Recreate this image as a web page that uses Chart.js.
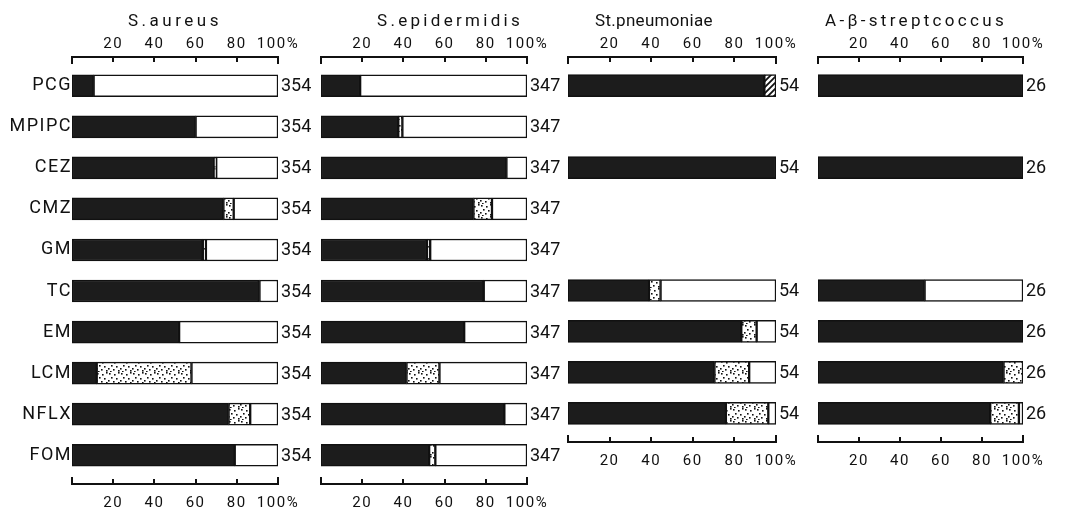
<!DOCTYPE html>
<html><head><meta charset="utf-8">
<script src="https://cdn.jsdelivr.net/npm/chart.js@4"></script>
<style>
html,body{margin:0;padding:0;background:#fff;}
#wrap{position:relative;width:1071px;height:516px;background:#fff;}
canvas{position:absolute;left:0;top:0;}
</style></head><body>
<div id="wrap">
<canvas id="c0" width="1071" height="516"></canvas>
<canvas id="c1" width="1071" height="516"></canvas>
<canvas id="c2" width="1071" height="516"></canvas>
<canvas id="c3" width="1071" height="516"></canvas>
</div>
<script>
// ---- data ----
const drugs = ['PCG','MPIPC','CEZ','CMZ','GM','TC','EM','LCM','NFLX','FOM'];
const drugsStrep = ['PCG','MPIPC','CEZ','CMZ','GM','TC','EM','LCM','NFLX'];
const organisms = ['S.aureus','S.epidermidis','St.pneumoniae','A-β-streptcoccus'];
const strainCounts = [354, 347, 54, 26];
const tickValues = [0, 20, 40, 60, 80, 100];
const tickLabels = ['', '20', '40', '60', '80', '100%'];

// % susceptible (black), intermediate (stippled), resistant (white)
const aureusS = [10.5, 60, 69, 73.5, 63.5, 91, 52, 12, 76, 79];
const aureusI = [null, null, 1, 5, 1.5, null, null, 46, 10.5, null];
const aureusR = [89.5, 40, 30, 21.5, 35, 9, 48, 42, 13.5, 21];

const epiS = [19, 37.5, 90, 74, 51.5, 79, 69.5, 41.5, 89, 52.5];
const epiI = [null, 2, null, 9, 1.5, null, null, 16, null, 3];
const epiR = [81, 60.5, 10, 17, 47, 21, 30.5, 42.5, 11, 44.5];

const pneumoS = [94.4, null, 100, null, null, 38.9, 83.3, 70.4, 75.9];
const pneumoI = [null, null, null, null, null, 5.6, 7.4, 16.7, 20.4];
const pneumoHatched = [5.6, null, null, null, null, null, null, null, null];
const pneumoR = [null, null, null, null, null, 55.5, 9.3, 12.9, 3.7];

const strepS = [100, null, 100, null, null, 52, 100, 90.5, 84];
const strepI = [null, null, null, null, null, null, null, 9.5, 14];
const strepR = [null, null, null, null, null, 48, null, null, 2];

// ---- patterns ----
function makePattern(w, h, paint) {
  const c = document.createElement('canvas'); c.width = w; c.height = h;
  const g = c.getContext('2d'); paint(g);
  return g.createPattern(c, 'repeat');
}
const stipple = makePattern(12, 12, g => {
  g.fillStyle = '#fff'; g.fillRect(0, 0, 12, 12); g.fillStyle = '#111';
  [[1,1],[6,2],[10,0],[3,5],[8,6],[0,8],[5,9],[10,10],[2,11]].forEach(([a,b]) => g.fillRect(a, b, 1.6, 1.6));
});
const hatch = makePattern(6, 6, g => {
  g.fillStyle = '#fff'; g.fillRect(0, 0, 6, 6);
  g.strokeStyle = '#111'; g.lineWidth = 1.8;
  g.beginPath(); g.moveTo(-1, 7); g.lineTo(7, -1); g.moveTo(-1, 1); g.lineTo(1, -1); g.moveTo(5, 7); g.lineTo(7, 5); g.stroke();
});
const BLACK = '#1c1c1c';

// ---- inward axes (top and bottom), drawn from the scales ----
function drawAxes(chart) {
  const ctx = chart.ctx, x = chart.scales.x, y = chart.scales.y;
  const x0 = x.getPixelForValue(0), x1 = x.getPixelForValue(100);
  const yTop = Math.min(y.getPixelForValue(y.min), y.getPixelForValue(y.max));
  const yBot = Math.max(y.getPixelForValue(y.min), y.getPixelForValue(y.max));
  ctx.save();
  ctx.globalAlpha = 1; ctx.globalCompositeOperation = 'source-over';
  ctx.fillStyle = '#111';
  ctx.fillRect(x0 - 1, yTop - 1, x1 - x0 + 2, 2);
  ctx.fillRect(x0 - 1, yBot - 1, x1 - x0 + 2, 2);
  tickValues.forEach(v => {
    const px = Math.round(x.getPixelForValue(v));
    const len = (v === 0 || v === 100) ? 7 : 5;
    ctx.fillRect(px - 1, yTop, 2, len);
    ctx.fillRect(px - 1, yBot - len, 2, len);
  });
  ctx.restore();
}

const decor = {
  id: 'decor',
  beforeDraw(chart) { chart.ctx.letterSpacing = '1.5px'; },
  beforeDatasetsDraw(chart) { drawAxes(chart); },
  afterDraw(chart, args, o) {
    drawAxes(chart);
    const ctx = chart.ctx, a = chart.chartArea, x = chart.scales.x, y = chart.scales.y;
    ctx.save();
    ctx.fillStyle = '#111';
    ctx.textBaseline = 'middle'; ctx.textAlign = 'left';
    ctx.font = '17px Roboto';
    ctx.letterSpacing = o.titleSpacing + 'px';
    ctx.fillText(o.title, a.left + o.titleDx, 22);
    ctx.font = '18px Roboto';
    ctx.letterSpacing = '0px';
    const xEnd = x.getPixelForValue(100);
    o.rows.forEach((has, i) => {
      if (has) ctx.fillText(String(o.count), xEnd + 3, y.getPixelForValue(i) + 1);
    });
    ctx.restore();
  }
};

const panels = [
  {labels: drugs, S: aureusS, I: aureusI, R: aureusR, H: null, count: strainCounts[0], title: organisms[0],
   left: 72, right: 278, bottom: 484, showY: true, titleDx: 56, titleSpacing: 3.5},
  {labels: drugs, S: epiS, I: epiI, R: epiR, H: null, count: strainCounts[1], title: organisms[1],
   left: 321, right: 527, bottom: 484, showY: false, titleDx: 56, titleSpacing: 3.3},
  {labels: drugsStrep, S: pneumoS, I: pneumoI, R: pneumoR, H: pneumoHatched, count: strainCounts[2], title: organisms[2],
   left: 568, right: 776, bottom: 442, showY: false, titleDx: 27, titleSpacing: 0.3},
  {labels: drugsStrep, S: strepS, I: strepI, R: strepR, H: null, count: strainCounts[3], title: organisms[3],
   left: 818, right: 1023, bottom: 442, showY: false, titleDx: 7, titleSpacing: 3.3},
];

const W = 1071, H = 516, Y_AXIS_W = 72;

panels.forEach((p, k) => {
  const pts = arr => arr.map((v, i) => ({x: v, y: i})).filter(d => d.x !== null);
  const ds = (label, arr, bg) => ({
    label, data: pts(arr), backgroundColor: bg, borderColor: '#111', borderWidth: 1.5,
    borderSkipped: false, barThickness: 22, stack: 's'
  });
  const datasets = [ds('susceptible', p.S, BLACK), ds('intermediate', p.I, stipple)];
  if (p.H) datasets.push(ds('other', p.H, hatch));
  datasets.push(ds('resistant', p.R, '#fff'));
  const xScale = (pos, pad, height) => ({
    type: 'linear', min: 0, max: 100, position: pos,
    grid: {display: false, drawTicks: false},
    border: {display: true, color: '#111', width: 2},
    afterBuildTicks: s => { s.ticks = tickValues.map(v => ({value: v})); },
    afterFit: s => { s.height = height; },
    ticks: {autoSkip: false, maxRotation: 0, color: '#111', padding: pad,
            font: {family: 'Roboto', size: 15},
            callback: v => tickLabels[tickValues.indexOf(v)]}
  });
  const xTop = xScale('top', 4, 57); xTop.stacked = true;
  const xBottom = xScale('bottom', 10, H - p.bottom); xBottom.axis = 'x';
  new Chart(document.getElementById('c' + k), {
    type: 'bar',
    data: {datasets},
    options: {
      indexAxis: 'y', responsive: false, animation: false, devicePixelRatio: 1,
      layout: {padding: {left: p.showY ? p.left - Y_AXIS_W : p.left, right: W - p.right, top: 0, bottom: 0}},
      plugins: {legend: {display: false}, tooltip: {enabled: false}, title: {display: false},
        decor: {title: p.title, titleDx: p.titleDx, titleSpacing: p.titleSpacing, count: p.count,
                rows: p.S.map(v => v !== null)}},
      scales: {
        x: xTop,
        x2: xBottom,
        y: {
          type: 'linear', reverse: true, offset: false, min: -0.7, max: p.labels.length - 0.3, stacked: true,
          display: p.showY,
          grid: {display: false, drawTicks: false}, border: {display: false},
          afterBuildTicks: s => { s.ticks = p.labels.map((_, i) => ({value: i})); },
          afterFit: s => { if (p.showY) s.width = Y_AXIS_W; },
          ticks: {autoSkip: false, padding: 0, color: '#111', font: {family: 'Roboto', size: 18},
                  callback: v => p.labels[v]}
        }
      }
    },
    plugins: [decor]
  });
});
</script>
</body></html>
